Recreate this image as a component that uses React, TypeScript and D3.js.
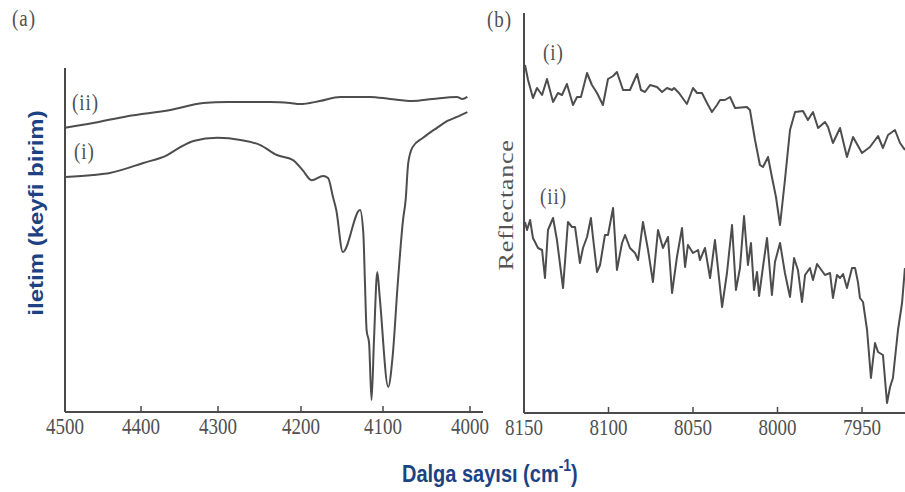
import React from "react";
import * as d3 from "d3";

// Panel (a): transmission spectra, wavenumber (cm-1) vs arbitrary units
const aTicks = [4500, 4400, 4300, 4200, 4100, 4000];
const aCurveII: [number, number][] = [
  [4500, 82.6], [4463, 84.0], [4418, 86.0], [4362, 87.8], [4319, 89.8],
  [4289, 90.1], [4237, 90.1], [4213, 89.8], [4201, 89.5], [4177, 90.4],
  [4152, 91.6], [4116, 91.6], [4092, 91.0], [4066, 90.4], [4043, 91.0],
  [4015, 91.6], [4009, 91.0], [4003, 91.6],
];
const aCurveI: [number, number][] = [
  [4500, 68.3], [4463, 68.9], [4441, 69.5], [4397, 72.4], [4366, 74.7],
  [4349, 77.0], [4332, 78.8], [4301, 79.7], [4273, 79.1], [4249, 77.6],
  [4229, 74.7], [4210, 73.3], [4198, 70.3], [4187, 67.4], [4173, 68.6],
  [4167, 68.0], [4161, 62.5], [4157, 58.7], [4149, 46.5], [4128, 58.7],
  [4124, 52.0], [4122, 37.5], [4120, 23.8], [4117, 20.1], [4114, 3.5],
  [4111, 20.9], [4107, 40.7], [4104, 33.4], [4094, 7.3], [4089, 16.0],
  [4083, 37.5], [4077, 55.8], [4074, 61.6], [4071, 72.4], [4066, 77.0],
  [4054, 79.7], [4038, 82.6], [4026, 84.6], [4015, 85.8], [4003, 87.2],
];

// Panel (b): reflectance spectra
const bTicks = [8150, 8100, 8050, 8000, 7950];
const bCurveI: [number, number][] = [
  [8149.4, 87.0], [8147.6, 83.25], [8144.7, 78.75], [8142.3, 81.25], [8139.3, 79.5],
  [8136.4, 83.5], [8132.8, 77.75], [8129.9, 80], [8127.5, 79.5], [8124.6, 82.25],
  [8121, 77], [8118.6, 79], [8116.3, 79], [8112.7, 85], [8109.8, 82],
  [8106.8, 80], [8103.3, 77], [8100.3, 83.5], [8097.3, 84.25], [8095, 85.25],
  [8091.4, 80.75], [8087.3, 80.75], [8083.1, 84.75], [8080.8, 80.75], [8078.4, 80.25],
  [8075.4, 82], [8071.3, 81.5], [8068.3, 80.25], [8065.4, 81.25], [8062.4, 80.75],
  [8061.2, 81.25], [8058.3, 80], [8053.6, 77.25], [8050, 81.25], [8047.6, 80],
  [8044.7, 80], [8041.7, 77.5], [8038.8, 75.25], [8035.8, 77], [8034, 78.25],
  [8031.1, 78.25], [8028.1, 79], [8025.1, 76.25], [8018.1, 76.5], [8016.3, 75.75],
  [8013.3, 68.25], [8010.4, 62], [8008.6, 61.5], [8005.6, 64], [8003.3, 59],
  [8000.9, 54], [7998.5, 47], [7995.6, 58.25], [7992.6, 70.75], [7989.6, 75.25],
  [7984.9, 75.5], [7982, 73.25], [7979, 75.25], [7976, 71.25], [7971.9, 72.75],
  [7970.1, 71.5], [7967.2, 67.5], [7963, 71.25], [7958.9, 64], [7955.3, 69],
  [7950, 65], [7945.3, 66.5], [7940.5, 69.25], [7937.6, 66.25], [7934.6, 69.5],
  [7930.5, 70.75], [7927.5, 67.5], [7924.6, 65.75],
];
const bCurveII: [number, number][] = [
  [8149.4, 47.75], [8148.2, 45.75], [8146.4, 48.25], [8144.7, 43.75], [8141.7, 41.25],
  [8139.3, 40.75], [8137.6, 33.75], [8135.8, 45.75], [8132.8, 48.75], [8130.5, 43.25],
  [8126.9, 31.25], [8124, 47.75], [8121.6, 46.5], [8119.8, 46.5], [8116.9, 37.5],
  [8115.1, 41.25], [8112.7, 44], [8110.4, 48.75], [8109.2, 44], [8106.8, 35.25],
  [8105, 37], [8102.1, 44.5], [8100.3, 44.5], [8097.3, 51.25], [8095, 35.75],
  [8092, 42.5], [8090.2, 44.5], [8087.3, 41.25], [8084.3, 40], [8082.5, 38.25],
  [8079.6, 47.75], [8076.6, 40.75], [8073.7, 32.75], [8070.7, 45.75], [8067.8, 41.25],
  [8064.8, 44], [8062.4, 30], [8059.5, 39], [8056.5, 46.25], [8054.7, 36.5],
  [8053, 42], [8050, 40], [8047, 40.75], [8045.9, 38.25], [8042.9, 41.25],
  [8039.9, 33.75], [8037, 43.25], [8032.8, 26.5], [8029.9, 35], [8026.9, 47],
  [8024.6, 30.75], [8022.2, 36.25], [8019.8, 49.25], [8017.5, 37], [8015.7, 42.5],
  [8013.9, 30.75], [8012.1, 35.25], [8010.9, 29.25], [8008.6, 36.5], [8006.2, 43.75],
  [8003.3, 29.5], [8001.5, 37.75], [7998.5, 42.5], [7995.6, 35], [7992.6, 29],
  [7990.2, 38.75], [7987.9, 35.75], [7985.5, 27.75], [7983.7, 34.5], [7980.8, 36.25],
  [7979, 33.25], [7976.6, 37.25], [7974.9, 36.25], [7971.9, 34.5], [7968.9, 35],
  [7967.2, 28.75], [7964.8, 34.5], [7963, 33.75], [7961.2, 34.75], [7958.9, 31.25],
  [7955.9, 36.25], [7954.1, 36.25], [7952.4, 32.75], [7951.2, 28.75], [7949.4, 27.75],
  [7947, 20.75], [7944.7, 8.75], [7943.5, 13.25], [7942.3, 17.5], [7940.5, 15.25],
  [7937.6, 14.5], [7935.2, 2.5], [7933.4, 6.5], [7931.7, 8.75], [7928.7, 20.75],
  [7926.3, 27.5], [7924.6, 36.25],
];

const W = 905;
const H = 492;
const INK = "#4d4d4d";
const AXIS = "#4a4a4a";
const BLUE = "#1d4283";
const SERIF = "'Liberation Serif', 'DejaVu Serif', serif";
const SANS = "'Liberation Sans', Arial, sans-serif";

// panel frames
const a = { left: 65, right: 483, top: 68, bottom: 412 };
const b = { left: 524, right: 905, top: 13, bottom: 413 };

// the tick spacing of panel (a) is slightly uneven, so its axis is piecewise
const xA = d3
  .scaleLinear()
  .domain(aTicks)
  .range([0, 0.1877, 0.3778, 0.5827, 0.7852, 1].map((f) => a.left + f * 405));
const yA = d3.scaleLinear().domain([0, 100]).range([a.bottom, a.top]);

const xB = d3.scaleLinear().domain([8150, 7950]).range([b.left, b.left + 338]);
const yB = d3.scaleLinear().domain([0, 100]).range([b.bottom, b.top]);

// smooth traces for the transmission panel, plain polylines for the noisy reflectance
const lineA = d3
  .line<[number, number]>()
  .x((d) => xA(d[0]))
  .y((d) => yA(d[1]))
  .curve(d3.curveMonotoneX);
const lineB = d3
  .line<[number, number]>()
  .x((d) => xB(d[0]))
  .y((d) => yB(d[1]));

const tall = (x: number, y: number) => `translate(${x},${y}) scale(1,1.2)`;

function Label({ x, y, text, size = 19 }: { x: number; y: number; text: string; size?: number }) {
  return (
    <text transform={tall(x, y)} fontFamily={SERIF} fontSize={size} fill="#505050" letterSpacing={1}>
      {text}
    </text>
  );
}

export default function App() {
  return (
    <svg
      width={W}
      height={H}
      viewBox={`0 0 ${W} ${H}`}
      style={{ position: "absolute", left: 0, top: 0, background: "#fff" }}
    >
      {/* panel (a) axes */}
      <g stroke={AXIS} strokeWidth={2} fill="none">
        <line x1={a.left} y1={a.top} x2={a.left} y2={a.bottom} />
        <line x1={a.left} y1={a.bottom} x2={a.right} y2={a.bottom} />
        {aTicks.slice(1).map((t) => (
          <line key={t} x1={xA(t)} x2={xA(t)} y1={a.bottom} y2={a.bottom - 6} strokeWidth={1.5} />
        ))}
      </g>
      {aTicks.map((t) => (
        <text
          key={t}
          transform={tall(xA(t), 434)}
          textAnchor="middle"
          fontFamily={SERIF}
          fontSize={19}
          fill="#505050"
        >
          {t}
        </text>
      ))}

      {/* panel (b) axes */}
      <g stroke={AXIS} strokeWidth={2} fill="none">
        <line x1={b.left} y1={b.top} x2={b.left} y2={b.bottom} />
        <line x1={b.left} y1={b.bottom} x2={b.right} y2={b.bottom} />
        {bTicks.slice(1).map((t) => (
          <line key={t} x1={xB(t)} x2={xB(t)} y1={b.bottom} y2={b.bottom - 6} strokeWidth={1.5} />
        ))}
      </g>
      {bTicks.map((t) => (
        <text
          key={t}
          transform={tall(xB(t), 435)}
          textAnchor="middle"
          fontFamily={SERIF}
          fontSize={19}
          fill="#505050"
        >
          {t}
        </text>
      ))}

      {/* spectra */}
      <g fill="none" stroke={INK} strokeWidth={2} strokeLinejoin="round">
        <path d={lineA(aCurveII) ?? ""} />
        <path d={lineA(aCurveI) ?? ""} />
        <path d={lineB(bCurveI) ?? ""} />
        <path d={lineB(bCurveII) ?? ""} />
      </g>

      {/* panel and curve labels */}
      <Label x={12} y={26} text="(a)" />
      <Label x={487} y={27} text="(b)" />
      <Label x={72} y={110} text="(ii)" />
      <Label x={74} y={159} text="(i)" />
      <Label x={543} y={60} text="(i)" />
      <Label x={540} y={204} text="(ii)" />

      <text
        transform={`translate(513,205) scale(1,1.2) rotate(-90)`}
        textAnchor="middle"
        fontFamily={SERIF}
        fontSize={22}
        fill="#555"
        letterSpacing={0.5}
      >
        Reflectance
      </text>

      <text
        transform={`translate(43,213) scale(1,1.2) rotate(-90)`}
        textAnchor="middle"
        fontFamily={SANS}
        fontWeight="bold"
        fontSize={20}
        fill={BLUE}
      >
        iletim (keyfi birim)
      </text>

      <text transform={tall(402, 482)} fontFamily={SANS} fontWeight="bold" fontSize={20} fill={BLUE}>
        Dalga sayısı (cm
        <tspan fontSize={14} dy={-9}>-1</tspan>
        <tspan dy={9}>)</tspan>
      </text>
    </svg>
  );
}
